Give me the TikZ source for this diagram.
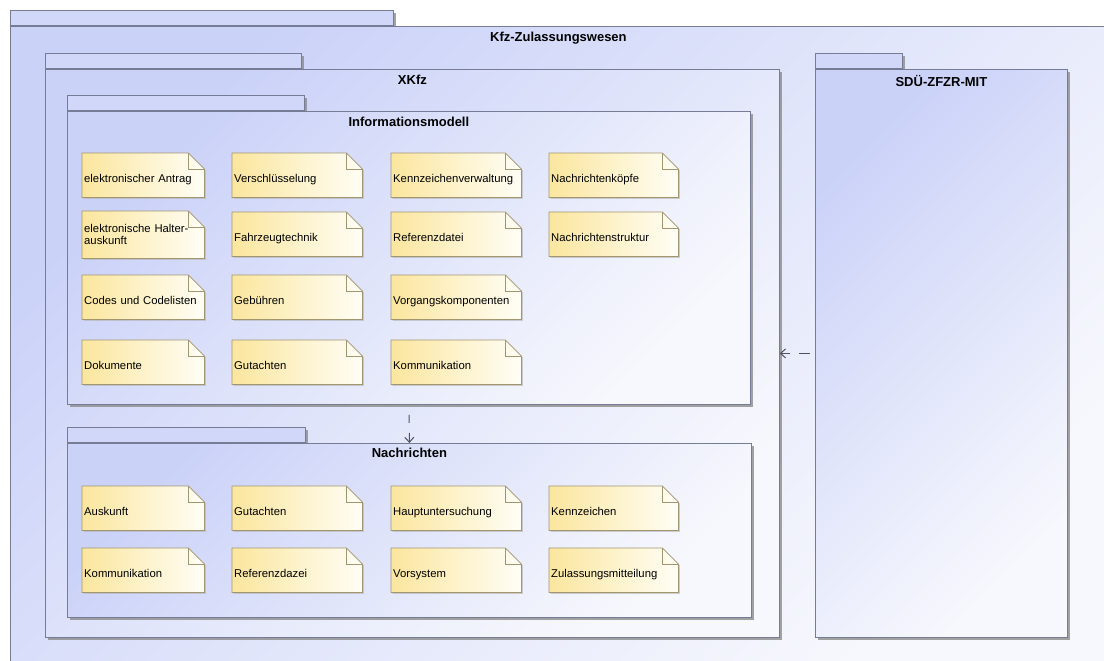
\documentclass[tikz,border=0pt]{standalone}
\usepackage{fontspec}
\setmainfont{Liberation Sans}
\usetikzlibrary{positioning,arrows.meta,shadows}

\definecolor{pkgtop}{RGB}{203,210,248}
\definecolor{pkgbot}{RGB}{247,248,253}
\definecolor{pkgtabfill}{RGB}{208,215,249}
\definecolor{pkgline}{RGB}{118,124,150}
\definecolor{notetop}{RGB}{251,230,158}
\definecolor{notebot}{RGB}{255,254,246}
\definecolor{noteline}{RGB}{162,150,112}
\definecolor{depline}{RGB}{80,82,94}

\pgfdeclarelayer{frames}
\pgfdeclarelayer{paper}
\pgfsetlayers{frames,paper,main}

\tikzset{
  pkgframe/.style={draw=pkgline, line width=0.8pt, inner sep=0pt,
    drop shadow={shadow xshift=2.5pt, shadow yshift=-2.5pt, fill=black!45, opacity=0.8}},
  pkg/.style={pkgframe, top color=pkgtop, bottom color=pkgbot, shading angle=45,
    anchor=north west},
  pkgtab/.style={pkgframe, fill=pkgtabfill, anchor=south west, minimum height=15pt},
  pkgtitle/.style={font=\fontsize{13}{15}\selectfont\bfseries, inner sep=0pt},
  note/.style={anchor=north west, inner xsep=2pt, inner ysep=2pt, text width=#1,
    minimum height=44pt, align=left, text height=17pt, text depth=3pt,
    font=\fontsize{11.3}{12.5}\selectfont},
  twoline/.style={text height={}, text depth={}, minimum height=47pt},
  paper/.style={draw=noteline, line width=0.7pt, left color=notetop, right color=notebot,
    drop shadow={shadow xshift=1.5pt, shadow yshift=-1.5pt, fill=black!30, opacity=0.6}},
  dep/.style={draw=depline, line width=1pt, -{Straight Barb[length=5pt,width=9pt]}}
}

\newcommand\notepaper[1]{%
  \draw[paper] (#1.north west) -- ([xshift=-16pt]#1.north east)
    -- ([yshift=-16pt]#1.north east) -- (#1.south east) -- (#1.south west) -- cycle;
  \draw[noteline, line width=0.7pt] ([xshift=-16pt]#1.north east) |- ([yshift=-16pt]#1.north east);
}

\begin{document}
\begin{tikzpicture}[x=1pt, y=-1pt]
  \useasboundingbox (0,0) rectangle (1104,661);

  % Packages
  \begin{pgfonlayer}{frames}
    \clip (0,0) rectangle (1104,661);
    \fill[white] (0,0) rectangle (1104,661);
    \node[pkgtab, minimum width=383pt] (kfztab) at (10,26) {};
    \node[pkg, minimum width=1096pt, minimum height=640pt] (kfz) at (10,26) {};
    \node[pkgtab, minimum width=256pt] (xkfztab) at (45,69) {};
    \node[pkg, minimum width=734pt, minimum height=568pt] (xkfz) at (45,69) {};
    \node[pkgtab, minimum width=237pt] (infotab) at (67,111) {};
    \node[pkg, minimum width=683pt, minimum height=293pt] (info) at (67,111) {};
    \node[pkgtab, minimum width=238pt] (nachrtab) at (67,443) {};
    \node[pkg, minimum width=684pt, minimum height=174pt] (nachr) at (67,443) {};
    \node[pkgtab, minimum width=87pt] (sdutab) at (815,69) {};
    \node[pkg, minimum width=252pt, minimum height=568pt] (sdu) at (815,69) {};
  \end{pgfonlayer}

  % Package names
  \node[pkgtitle, below=6pt of kfz.north] (kfzname) {Kfz-Zulassungswesen};
  \node[pkgtitle, below=6pt of xkfz.north] (xkfzname) {XKfz};
  \node[pkgtitle, below=6pt of info.north] (infoname) {Informationsmodell};
  \node[pkgtitle, below=5pt of nachr.north] (nachrname) {Nachrichten};
  \node[pkgtitle, below=6pt of sdu.north] (sduname) {SDÜ-ZFZR-MIT};

  % Informationsmodell
  \node[note=118pt] (antrag) at (82,153) {elektronischer Antrag};
  \node[note=126pt] (verschl) at (232,153) {Verschlüsselung};
  \node[note=126pt] (kennzv) at (391,153) {Kennzeichenverwaltung};
  \node[note=125pt] (koepfe) at (549,153) {Nachrichtenköpfe};
  \node[note=118pt, twoline] (halter) at (82,211) {elektronische Halter-\\auskunft};
  \node[note=126pt] (technik) at (232,212) {Fahrzeugtechnik};
  \node[note=126pt] (refdatei) at (391,212) {Referenzdatei};
  \node[note=125pt] (struktur) at (549,212) {Nachrichtenstruktur};
  \node[note=118pt] (codes) at (82,275) {Codes und Codelisten};
  \node[note=126pt] (gebuehr) at (232,275) {Gebühren};
  \node[note=126pt] (vorgang) at (391,275) {Vorgangskomponenten};
  \node[note=118pt] (dokumente) at (82,340) {Dokumente};
  \node[note=126pt] (gutachten) at (232,340) {Gutachten};
  \node[note=126pt] (komm) at (391,340) {Kommunikation};

  % Nachrichten
  \node[note=118pt] (nauskunft) at (82,486) {Auskunft};
  \node[note=126pt] (ngutachten) at (232,486) {Gutachten};
  \node[note=126pt] (nhu) at (391,486) {Hauptuntersuchung};
  \node[note=125pt] (nkennz) at (549,486) {Kennzeichen};
  \node[note=118pt] (nkomm) at (82,548) {Kommunikation};
  \node[note=126pt] (nrefdazei) at (232,548) {Referenzdazei};
  \node[note=126pt] (nvorsystem) at (391,548) {Vorsystem};
  \node[note=125pt] (nzulassung) at (549,548) {Zulassungsmitteilung};

  \begin{pgfonlayer}{paper}
    \foreach \n in {antrag,verschl,kennzv,koepfe,halter,technik,refdatei,struktur,
      codes,gebuehr,vorgang,dokumente,gutachten,komm,nauskunft,ngutachten,nhu,
      nkennz,nkomm,nrefdazei,nvorsystem,nzulassung}
      {\notepaper{\n}}
  \end{pgfonlayer}

  % Dependencies
  \draw[dep, dash pattern=on 8pt off 10pt, dash phase=8pt] (info.south) -- (nachr.north);
  \draw[dep, dash pattern=on 11pt off 9pt, dash phase=15pt] (sdu.west) -- (xkfz.east);
\end{tikzpicture}
\end{document}
